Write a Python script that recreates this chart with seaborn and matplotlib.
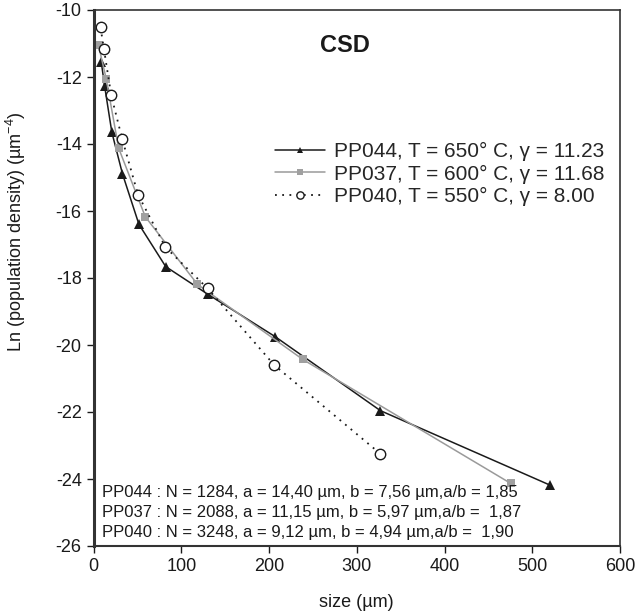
import matplotlib
matplotlib.use("Agg")
import matplotlib.pyplot as plt
import seaborn as sns
import pandas as pd

sns.set_style("ticks")
plt.rcParams['font.family'] = ['Liberation Sans', 'DejaVu Sans']
plt.rcParams['mathtext.fontset'] = 'custom'
plt.rcParams['mathtext.rm'] = 'Liberation Sans'
plt.rcParams['axes.unicode_minus'] = False

# Data
pp044_size = [8.8, 12.6, 20.9, 33, 51.8, 82.3, 130, 207, 327, 520]
pp044_ln = [-11.54, -12.26, -13.65, -14.89, -16.4, -17.66, -18.48, -19.75, -21.96, -24.18]
pp037_size = [5.7, 14.5, 28.6, 59, 118.5, 238.5, 475.4]
pp037_ln = [-11.05, -12.06, -14.12, -16.17, -18.19, -20.43, -24.13]
pp040_size = [8, 11.8, 20.2, 32.8, 50.7, 82, 130, 206, 327]
pp040_ln = [-10.52, -11.15, -12.55, -13.86, -15.51, -17.08, -18.31, -20.6, -23.25]

labels = ["PP044, T = 650° C, γ = 11.23",
          "PP037, T = 600° C, γ = 11.68",
          "PP040, T = 550° C, γ = 8.00"]
notes = ["PP044 : N = 1284, a = 14,40 µm, b = 7,56 µm,a/b = 1,85",
         "PP037 : N = 2088, a = 11,15 µm, b = 5,97 µm,a/b =  1,87",
         "PP040 : N = 3248, a = 9,12 µm, b = 4,94 µm,a/b =  1,90"]
x_ticks = [0, 100, 200, 300, 400, 500, 600]
y_ticks = [-10, -12, -14, -16, -18, -20, -22, -24, -26]

fig = plt.figure(figsize=(6.4, 6.16), dpi=100)
ax = fig.add_axes([93.5/640, 1-546/616, (620-93.5)/640, (546-10)/616])

d1 = pd.DataFrame({"size": pp044_size, "ln": pp044_ln})
d2 = pd.DataFrame({"size": pp037_size, "ln": pp037_ln})
d3 = pd.DataFrame({"size": pp040_size, "ln": pp040_ln})

sns.lineplot(data=d1, x="size", y="ln", ax=ax, sort=False, color="#1a1a1a",
             lw=1.1, marker="^", markersize=6.5, markeredgewidth=0,
             markerfacecolor="#1a1a1a", label=labels[0])
sns.lineplot(data=d2, x="size", y="ln", ax=ax, sort=False, color="#9a9a9a",
             lw=1.1, marker="s", markersize=6, markeredgewidth=0,
             markerfacecolor="#a0a0a0", label=labels[1])
sns.lineplot(data=d3, x="size", y="ln", ax=ax, sort=False, color="#1a1a1a",
             lw=1.3, linestyle=(0, (1, 3)), marker="o", markersize=7.5,
             markerfacecolor="white", markeredgecolor="#1a1a1a",
             markeredgewidth=1.0, label=labels[2])

ax.set_xlim(0, 600)
ax.set_ylim(-26, -10)
ax.set_xticks(x_ticks)
ax.set_yticks(y_ticks)
ax.tick_params(labelsize=13, length=5, width=1, direction="out", colors="#1a1a1a")
for s in ax.spines.values():
    s.set_visible(True)
    s.set_color("#333333")
ax.spines['left'].set_linewidth(2.2)
ax.spines['bottom'].set_linewidth(1.5)
ax.spines['top'].set_linewidth(1.2)
ax.spines['right'].set_linewidth(1.2)

ax.set_xlabel("size (µm)", fontsize=13, color="#1a1a1a")
ax.xaxis.set_label_coords(0.5, -(594-546)/536)
ax.set_ylabel("Ln (population density) (µm$^{-4}$)", fontsize=13, color="#1a1a1a")
ax.yaxis.set_label_coords(-(93.5-28)/526.5, (546-232)/536)

ax.text(345/640, 1-45/616, "CSD", transform=fig.transFigure, fontsize=17,
        fontweight="bold", ha="center", va="center", color="#1a1a1a")

leg = ax.legend(loc="upper left", bbox_to_anchor=(265/640, 1-132/616),
                bbox_transform=fig.transFigure, frameon=False, fontsize=15,
                handlelength=2.4, handletextpad=0.4, labelspacing=0.15,
                borderpad=0, markerscale=0.7)

for i, t in enumerate(notes):
    ax.text(102/640, 1-(493 + 20*i)/616, t, transform=fig.transFigure,
            fontsize=12, ha="left", va="center", color="#1a1a1a")

fig.savefig("out.png", dpi=100)
